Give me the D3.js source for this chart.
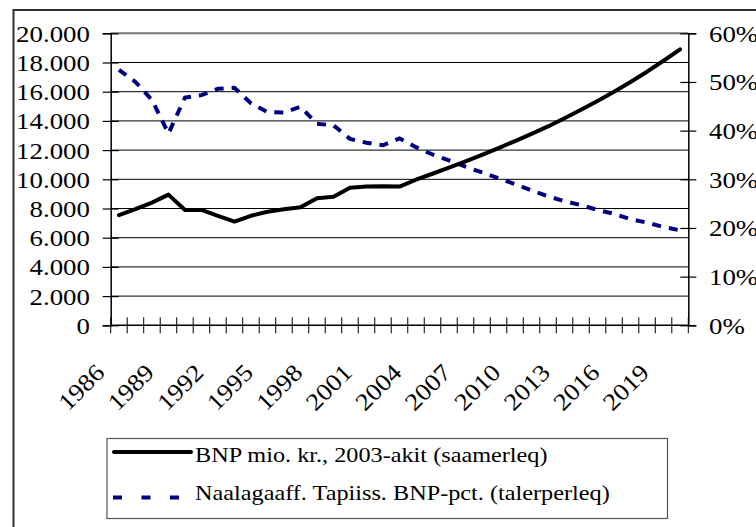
<!DOCTYPE html>
<html>
<head>
<meta charset="utf-8">
<script src="https://cdn.jsdelivr.net/npm/d3@7"></script>
<style>
  html, body { margin: 0; padding: 0; background: #fff; }
  svg { display: block; }
  text { font-family: "Liberation Serif", "Times New Roman", serif; fill: #000; }
</style>
</head>
<body>
<svg id="chart" width="756" height="527"></svg>
<script>
// ---- data ----
const years = [1986,1987,1988,1989,1990,1991,1992,1993,1994,1995,
               1996,1997,1998,1999,2000,2001,2002,2003,2004,2005,
               2006,2007,2008,2009,2010,2011,2012,2013,2014,2015,
               2016,2017,2018,2019,2020];
const bnp = [7550,7950,8400,8950,7900,7900,7500,7100,7500,7780,
             7950,8080,8700,8800,9420,9500,9520,9500,9970,10380,
             10800,11230,11680,12140,12620,13110,13620,14180,14770,15370,
             16000,16670,17370,18120,18900];
const pct = [0.525,0.500,0.463,0.394,0.468,0.473,0.486,0.488,0.456,0.438,
             0.437,0.449,0.414,0.411,0.383,0.375,0.370,0.384,0.366,0.351,
             0.339,0.326,0.314,0.302,0.290,0.277,0.265,0.255,0.247,0.237,
             0.229,0.218,0.211,0.202,0.195];
const leftTicks = [0,2000,4000,6000,8000,10000,12000,14000,16000,18000,20000];
const rightTicks = [0,0.1,0.2,0.3,0.4,0.5,0.6];
const xTickLabels = ["1986","1989","1992","1995","1998","2001","2004","2007","2010","2013","2016","2019"];
const seriesNames = ["BNP mio. kr., 2003-akit (saamerleq)", "Naalagaaff. Tapiiss. BNP-pct. (talerperleq)"];

// ---- layout ----
const L = 110.7, R = 688.3, T = 33.3, B = 325.3;
const SX = 1.12;   // horizontal stretch of axis text
const SXL = 1.155; // horizontal stretch of legend text
const svg = d3.select("#chart");

const x = d3.scaleBand().domain(years).range([L, R]).paddingInner(0).paddingOuter(0);
const yL = d3.scaleLinear().domain([0, 20000]).range([B, T]);
const yR = d3.scaleLinear().domain([0, 0.6]).range([B, T]);
const cx = d => x(d) + x.bandwidth() / 2;

const loc = d3.formatLocale({decimal: ",", thousands: ".", grouping: [3], currency: ["", ""]});
const fmtL = loc.format(",");
const fmtR = d3.format(".0%");

// outer frame
svg.append("rect").attr("x", 13.5).attr("y", 10).attr("width", 900).attr("height", 700)
  .attr("fill", "none").attr("stroke", "#333").attr("stroke-width", 2);

// gridlines
svg.append("g").selectAll("line").data(leftTicks.slice(1)).join("line")
  .attr("x1", L).attr("x2", R)
  .attr("y1", d => yL(d)).attr("y2", d => yL(d))
  .attr("stroke", d => d === 20000 ? "#777" : "#000")
  .attr("stroke-width", d => d === 20000 ? 2 : 1);

// left axis
const gL = svg.append("g").attr("transform", `translate(${L},0)`)
  .call(d3.axisLeft(yL).tickValues(leftTicks).tickSize(8).tickFormat(""));
gL.select(".domain").attr("stroke", "#000").attr("stroke-width", 1.5);
gL.selectAll(".tick line").attr("x1", 8).attr("x2", -8).attr("stroke", "#000").attr("stroke-width", 1.2);
svg.append("g").selectAll("text").data(leftTicks).join("text")
  .attr("transform", d => `translate(90,${yL(d)}) scale(${SX},1)`)
  .attr("dy", "0.35em").attr("text-anchor", "end")
  .style("font-size", "24px").text(d => fmtL(d));

// right axis
const gR = svg.append("g").attr("transform", `translate(${R},0)`)
  .call(d3.axisRight(yR).tickValues(rightTicks).tickSize(8).tickFormat(""));
gR.select(".domain").attr("stroke", "#000").attr("stroke-width", 1.5);
gR.selectAll(".tick line").attr("x1", -8).attr("x2", 8).attr("stroke", "#000").attr("stroke-width", 1.2);
svg.append("g").selectAll("text").data(rightTicks).join("text")
  .attr("transform", d => `translate(709,${yR(d)}) scale(${SX},1)`)
  .attr("dy", "0.35em").attr("text-anchor", "start")
  .style("font-size", "24px").text(d => fmtR(d));

// bottom axis: ticks at category boundaries
const bounds = years.map(d => x(d)).concat([R]);
svg.append("line").attr("x1", L).attr("x2", R).attr("y1", B).attr("y2", B)
  .attr("stroke", "#000").attr("stroke-width", 1.5);
svg.append("g").selectAll("line").data(bounds).join("line")
  .attr("x1", d => d).attr("x2", d => d).attr("y1", B - 8).attr("y2", B + 8)
  .attr("stroke", "#000").attr("stroke-width", 1);
svg.append("g").selectAll("text").data(xTickLabels).join("text")
  .attr("transform", d => `translate(${cx(+d) - 13},374) rotate(-45) scale(${SX},1)`)
  .attr("text-anchor", "end")
  .style("font-size", "24px").text(d => d);

// lines
const linePct = d3.line().x((d, i) => cx(years[i])).y(d => yR(d));
const lineBnp = d3.line().x((d, i) => cx(years[i])).y(d => yL(d));
svg.append("path").datum(pct).attr("d", linePct)
  .attr("fill", "none").attr("stroke", "#000080").attr("stroke-width", 4)
  .attr("stroke-dasharray", "9,8");
svg.append("path").datum(bnp).attr("d", lineBnp)
  .attr("fill", "none").attr("stroke", "#000").attr("stroke-width", 4)
  .attr("stroke-linejoin", "round").attr("stroke-linecap", "round");

// legend
svg.append("rect").attr("x", 107).attr("y", 438.5).attr("width", 560.5).attr("height", 80)
  .attr("fill", "#fff").attr("stroke", "#555").attr("stroke-width", 1.2);
svg.append("line").attr("x1", 114).attr("x2", 191).attr("y1", 452).attr("y2", 452)
  .attr("stroke", "#000").attr("stroke-width", 4).attr("stroke-linecap", "round");
svg.append("line").attr("x1", 113).attr("x2", 180).attr("y1", 497.5).attr("y2", 497.5)
  .attr("stroke", "#000080").attr("stroke-width", 4).attr("stroke-dasharray", "9,19.5");
svg.append("g").selectAll("text").data(seriesNames).join("text")
  .attr("transform", (d, i) => `translate(195,${i === 0 ? 461.7 : 500.3}) scale(${SXL},1)`)
  .style("font-size", "21px").text(d => d);
</script>
</body>
</html>
